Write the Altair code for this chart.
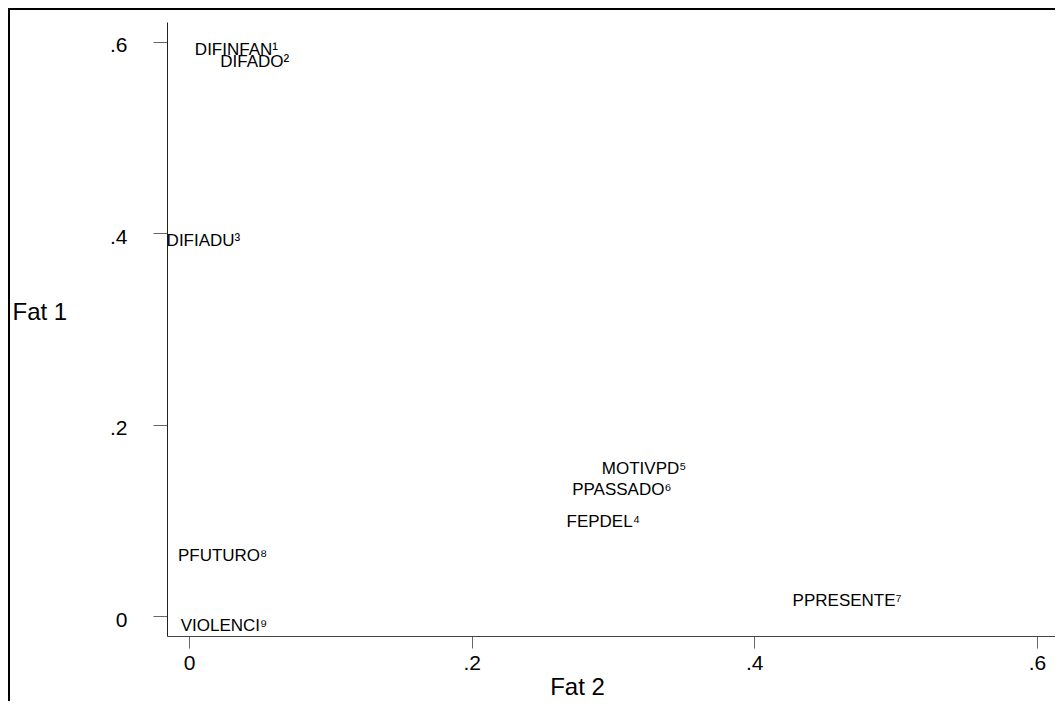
import altair as alt
import pandas as pd

names = ["DIFINFAN¹", "DIFADO²", "DIFIADU³", "FEPDEL⁴", "MOTIVPD⁵",
         "PPASSADO⁶", "PPRESENTE⁷", "PFUTURO⁸", "VIOLENCI⁹"]
fat2 = [0.002, 0.020, -0.018, 0.265, 0.290, 0.269, 0.425, -0.010, -0.008]
fat1 = [0.592, 0.579, 0.392, 0.098, 0.154, 0.132, 0.016, 0.063, -0.010]
ticks = [0, 0.2, 0.4, 0.6]

df = pd.DataFrame({"name": names, "fat2": fat2, "fat1": fat1})
one = pd.DataFrame({"a": [0]})

FONT = "Liberation Sans"
label_expr = "datum.value == 0 ? '0' : substring(format(datum.value, '.1f'), 1)"

text = alt.Chart(df).mark_text(
    align="left", baseline="middle", dx=3, fontSize=17, font=FONT, color="black"
).encode(
    x=alt.X("fat2:Q",
            scale=alt.Scale(domain=[-0.0156, 0.6128], nice=False, zero=False),
            axis=alt.Axis(values=ticks, labelExpr=label_expr, title="Fat 2",
                          grid=False, tickSize=12, labelPadding=4, labelFontSize=21,
                          domainColor="#444", tickColor="#666",
                          titleX=410, titleY=51, titleAlign="center",
                          titleBaseline="middle", titleFontSize=24,
                          titleFontWeight="normal")),
    y=alt.Y("fat1:Q",
            scale=alt.Scale(domain=[-0.0209, 0.6209], nice=False, zero=False),
            axis=alt.Axis(values=ticks, labelExpr=label_expr, title="Fat 1",
                          grid=False, tickSize=14, labelPadding=26, labelFontSize=21,
                          labelBaseline="middle", labelOffset=4,
                          domainColor="#222", tickColor="#666",
                          titleAngle=0, titleX=-155, titleY=290,
                          titleAlign="left", titleBaseline="middle",
                          titleFontSize=24, titleFontWeight="normal")),
    text="name:N",
)

frame_v = alt.Chart(one).mark_rule(color="black", strokeWidth=2).encode(
    x=alt.value(-158), y=alt.value(-13), y2=alt.value(700)
)
frame_h = alt.Chart(one).mark_rule(color="black", strokeWidth=2).encode(
    x=alt.value(-159), x2=alt.value(900), y=alt.value(-13)
)

chart = alt.layer(frame_v, frame_h, text).properties(
    width=888, height=614,
    autosize=alt.AutoSizeParams(type="none"),
    padding={"left": 159, "top": 14, "right": 0, "bottom": 65},
    background="white",
).configure_view(stroke=None).configure_axis(
    grid=False, labelFont=FONT, titleFont=FONT, labelColor="black",
    titleColor="black", titleFontWeight="normal", domainWidth=1, tickWidth=1,
)

chart.save("out.html", embed_options={"renderer": "svg", "actions": False})
